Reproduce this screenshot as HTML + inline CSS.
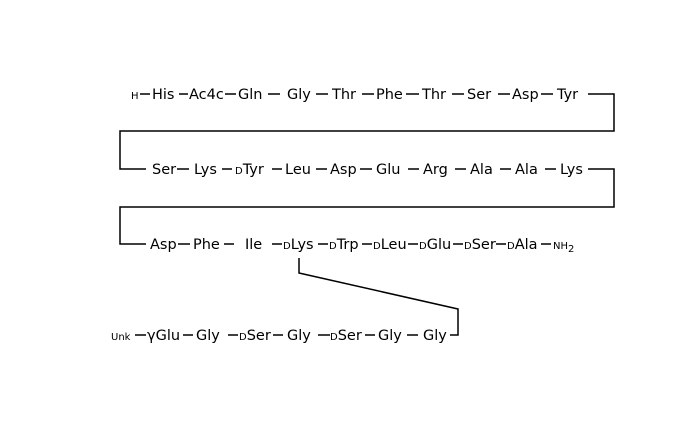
<!DOCTYPE html>
<html><head><meta charset="utf-8"><style>
html,body{margin:0;padding:0;background:#fff;}
svg{display:block;}
text{font-family:"DejaVu Sans","Liberation Sans",sans-serif;font-size:14.5px;fill:#000;}
.s{font-size:10px;}
</style></head><body>
<svg width="700" height="430" viewBox="0 0 700 430" xmlns="http://www.w3.org/2000/svg">
<g stroke="#000" stroke-width="1.5" fill="none">
<path d="M140 94H150 M179 94H188 M225 94H236 M268 94H280 M316 94H328 M362 94H374 M406 94H419 M452 94H464 M498 94H510 M541 94H553"/>
<path d="M588 94H614V131H120V169H146"/>
<path d="M177 169H189 M222 169H232 M272 169H282 M316 169H327 M360 169H372 M408 169H419 M455 169H466 M500 169H511 M545 169H556"/>
<path d="M588 169H614V207H120V244H146"/>
<path d="M178 244H190 M224 244H234 M272 244H282 M318 244H328 M362 244H372 M408 244H418 M453 244H463 M496 244H506 M541 244H551"/>
<path d="M299 258V273L458 309V335H450"/>
<path d="M135 335H146 M183 335H193 M228 335H238 M273 335H283 M318 335H330 M365 335H375 M407 335H418"/>
</g>
<g>
<text x="131" y="99" class="s">H</text>
<text x="152" y="99">His</text>
<text x="189" y="99">Ac4c</text>
<text x="238" y="99">Gln</text>
<text x="287" y="99">Gly</text>
<text x="332" y="99">Thr</text>
<text x="376" y="99">Phe</text>
<text x="422" y="99">Thr</text>
<text x="467" y="99">Ser</text>
<text x="512" y="99">Asp</text>
<text x="557" y="99">Tyr</text>

<text x="152" y="174">Ser</text>
<text x="194" y="174">Lys</text>
<text x="235" y="174"><tspan class="s">D</tspan>Tyr</text>
<text x="285" y="174">Leu</text>
<text x="330" y="174">Asp</text>
<text x="376" y="174">Glu</text>
<text x="423" y="174">Arg</text>
<text x="470" y="174">Ala</text>
<text x="515" y="174">Ala</text>
<text x="560" y="174">Lys</text>

<text x="150" y="249">Asp</text>
<text x="193" y="249">Phe</text>
<text x="245" y="249">Ile</text>
<text x="283" y="249"><tspan class="s">D</tspan>Lys</text>
<text x="329" y="249"><tspan class="s">D</tspan>Trp</text>
<text x="373" y="249"><tspan class="s">D</tspan>Leu</text>
<text x="419" y="249"><tspan class="s">D</tspan>Glu</text>
<text x="464" y="249"><tspan class="s">D</tspan>Ser</text>
<text x="507" y="249"><tspan class="s">D</tspan>Ala</text>
<text x="553" y="249" class="s">NH<tspan dy="3">2</tspan></text>

<text x="111" y="340" class="s">Unk</text>
<text x="147" y="340">γGlu</text>
<text x="196" y="340">Gly</text>
<text x="239" y="340"><tspan class="s">D</tspan>Ser</text>
<text x="287" y="340">Gly</text>
<text x="330" y="340"><tspan class="s">D</tspan>Ser</text>
<text x="378" y="340">Gly</text>
<text x="423" y="340">Gly</text>
</g>
</svg>
</body></html>
